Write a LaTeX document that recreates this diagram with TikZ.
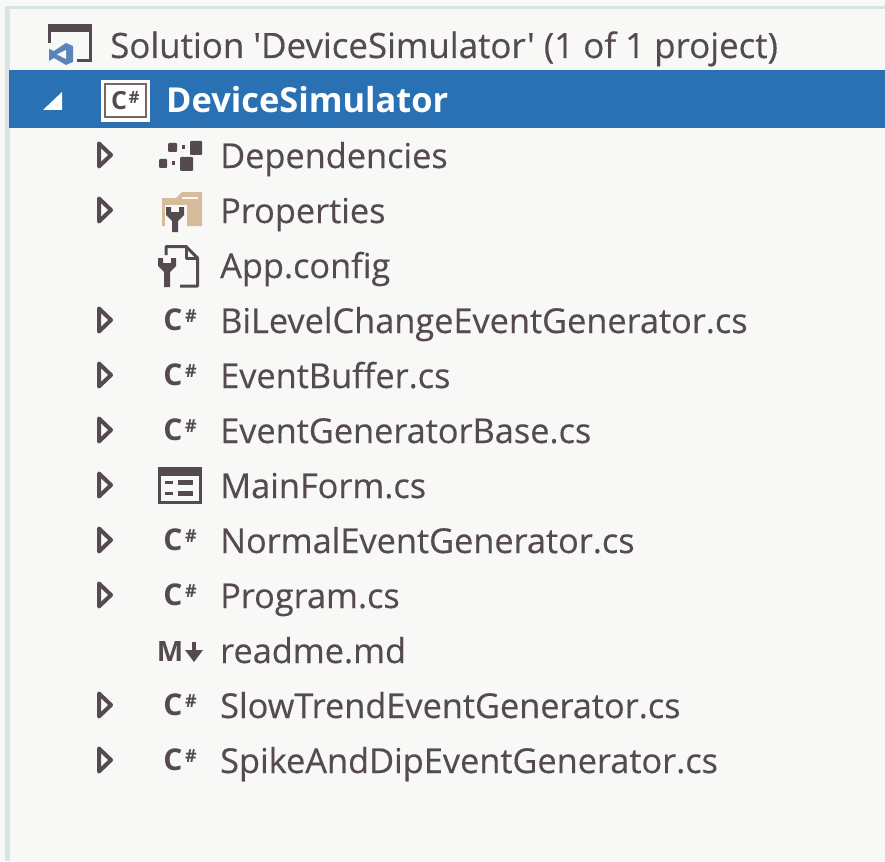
\documentclass[tikz,border=0pt]{standalone}
\usepackage{fontspec}
\setmainfont{Open Sans}
\newfontfamily\labfont{Open Sans}[FakeBold=0.35]
\definecolor{bgc}{HTML}{F8F8F6}
\definecolor{ink}{HTML}{544A50}
\definecolor{sel}{HTML}{2A71B3}
\definecolor{edgec}{HTML}{D9E2E4}
\definecolor{tan}{HTML}{D6BC9A}
\definecolor{vsb}{HTML}{5C84B8}
\tikzset{
 lab/.style={anchor=base west,inner sep=0pt,text=ink,font=\labfont\fontsize{34.3}{38}\selectfont},
 arr/.style={draw=ink,line width=4pt,line join=round,fill=bgc},
 csicon/.style={anchor=center,inner sep=0pt,text=ink,font=\fontsize{30}{32}\selectfont\bfseries},
 hashicon/.style={anchor=center,inner sep=0pt,text=ink,font=\fontsize{18}{20}\selectfont\bfseries},
}
\newcommand{\arrowat}[1]{\draw[arr] (99,#1-11.5) -- (111,#1) -- (99,#1+11.5) -- cycle;}
\newcommand{\wrench}[3]{% x, top y, bottom y
 \fill[ink] (#1-9,#2) -- (#1-4,#2) -- (#1-4,#2+5) -- (#1+4,#2+5) -- (#1+4,#2) -- (#1+9,#2)
   -- (#1+9,#2+8) -- (#1+3,#2+14) -- (#1+3,#3) -- (#1-3,#3) -- (#1-3,#2+14) -- (#1-9,#2+8) -- cycle;
}
\begin{document}
\begin{tikzpicture}[x=1pt,y=-1pt]
\useasboundingbox (0,0) rectangle (885,861);
\fill[bgc] (0,0) rectangle (885,861);
\fill[edgec] (5,6) rectangle (885,9);
\fill[edgec] (5,6) rectangle (10,861);
% solution row
\draw[ink,line width=2.5pt] (49.5,43) -- (49.5,26) -- (90.5,26) -- (90.5,60.5) -- (77,60.5);
\fill[ink] (48,24) rectangle (92,32);
\fill[vsb] (49,49) -- (54,51) -- (66,43) -- (73,46) -- (73,62) -- (66,65) -- (54,58) -- (49,61) -- cycle;
\fill[bgc] (57,54.5) -- (66,50) -- (66,59) -- cycle;
\node[lab,font=\labfont\fontsize{34.9}{38}\selectfont] (sol) at (110,58) {Solution 'DeviceSimulator' (1 of 1 project)};
% selected row
\fill[sel] (9,70) rectangle (885,128);
\fill[white] (43,110) -- (62,92) -- (62,110) -- cycle;
\fill[white] (101,80) rectangle (150,122);
\draw[ink!75!tan,line width=2.5pt] (105,84) rectangle (146,117);
\node[csicon,font=\fontsize{25}{26}\selectfont\bfseries] (csp) at (119,101) {C};
\node[hashicon,font=\fontsize{17}{18}\selectfont\bfseries] (hp) at (134,97) {\#};
\node[lab,text=white,font=\fontsize{34.4}{38}\selectfont\bfseries] (proj) at (166,113) {DeviceSimulator};
% dependencies
\arrowat{155}
\fill[ink,rounded corners=1pt] (168,143) rectangle (177,152);
\fill[ink,rounded corners=1pt] (190,141) rectangle (202,155);
\fill[ink,rounded corners=1pt] (159,159) rectangle (167,168);
\fill[ink,rounded corners=1pt] (180,157) rectangle (193,171);
\fill[ink] (181.5,145.5) rectangle (185,149);
\fill[ink] (171.5,161.5) rectangle (175,165);
\node[lab] (dep) at (220,168) {Dependencies};
% properties
\arrowat{210}
\fill[tan] (162,198) -- (176,198) -- (182,192) -- (202,192) -- (202,226) -- (162,226) -- cycle;
\draw[bgc,line width=1.5pt] (182,198) -- (198,198);
\fill[bgc] (165,205) rectangle (187,232);
\fill[tan] (187,205) rectangle (190,226);
\wrench{175}{207}{232}
\node[lab] (prop) at (220,223) {Properties};
% app.config
\draw[ink,line width=3pt,line join=round] (166,255) -- (166,246.5) -- (186,246.5) -- (197.5,258) -- (197.5,286) -- (180,286);
\draw[ink,line width=3pt,line join=round] (186,246.5) -- (186,258) -- (197.5,258);
\wrench{167}{258}{287}
\node[lab] (app) at (220,278) {App.config};
% C# rows
\foreach \y/\t/\n in {320/BiLevelChangeEventGenerator.cs/bi,375/EventBuffer.cs/eb,430/EventGeneratorBase.cs/eg,540/NormalEventGenerator.cs/ne,595/Program.cs/pr,705/SlowTrendEventGenerator.cs/sl,760/SpikeAndDipEventGenerator.cs/sp}{
 \arrowat{\y}
 \node[csicon] (ic\n) at (173,\y) {C};
 \node[hashicon] (h\n) at (191,\y-4) {\#};
 \node[lab] (\n) at (220,\y+13) {\t};
}
% mainform
\arrowat{485}
\draw[ink,line width=3pt] (159.5,468.5) rectangle (200.5,502);
\fill[ink] (158,467) rectangle (202,476);
\foreach \yy in {482,493}{\draw[ink,line width=3pt] (165,\yy) -- (173,\yy); \draw[ink,line width=5pt] (178,\yy) -- (193,\yy);}
\node[lab] (mf) at (220,498) {MainForm.cs};
% readme
\node[csicon,font=\fontsize{28}{30}\selectfont\bfseries] (md) at (170,651.5) {M};
\draw[ink,line width=4.5pt] (194,642) -- (194,653);
\fill[ink] (185,650) -- (203,650) -- (194,662) -- cycle;
\node[lab] (rm) at (220,663) {readme.md};
\end{tikzpicture}
\end{document}
